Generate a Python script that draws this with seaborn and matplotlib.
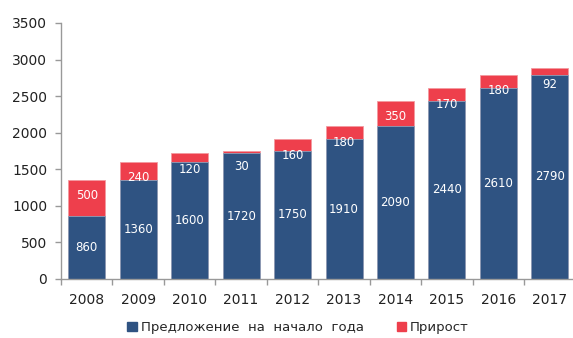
import numpy as np
import matplotlib as mpl
mpl.use("Agg")
import matplotlib.pyplot as plt
import seaborn as sns
from matplotlib.patches import Patch

years = ["2008", "2009", "2010", "2011", "2012", "2013", "2014", "2015", "2016", "2017"]
base = [860, 1360, 1600, 1720, 1750, 1910, 2090, 2440, 2610, 2790]   # предложение на начало года
incr = [500, 240, 120, 30, 160, 180, 350, 170, 180, 92]              # прирост

blue = "#2f5382"
red = "#ee3f4c"

sns.set_style("white", {"xtick.bottom": True, "ytick.left": True})
plt.rcParams['font.family'] = ['DejaVu Sans']
plt.rcParams['xtick.minor.visible'] = False

total = [b + i for b, i in zip(base, incr)]

fig = plt.figure(figsize=(5.73, 3.38), dpi=100)
ax = fig.add_axes([0.1065, 0.1746, 0.8935, 0.7574])

# red = whole column, blue drawn over it
sns.barplot(x=years, y=total, color=red, width=0.72, saturation=1,
            edgecolor="#f39aa0", linewidth=0.6, ax=ax)
sns.barplot(x=years, y=base, color=blue, width=0.72, saturation=1,
            edgecolor="#8da0ba", linewidth=0.6, ax=ax)

for i, (b, inc, t) in enumerate(zip(base, incr, total)):
    ax.text(i, b / 2, str(b), ha="center", va="center", color="white", fontsize=8.5)
    ax.annotate(str(inc), (i, t), xytext=(0, -11.5), textcoords="offset points",
                ha="center", va="center", color="white", fontsize=8.5)

ax.set_ylim(0, 3500)
ax.set_yticks(np.arange(0, 3501, 500))
ax.set_xlim(-0.5, 9.45)
ax.set_xticks(np.arange(-0.5, 9.5, 1), minor=True)
ax.tick_params(axis="x", which="major", length=0, labelsize=10, pad=10, colors="#222222")
ax.tick_params(axis="x", which="minor", bottom=True, length=4, width=1,
               color="#999999", direction="out")
ax.tick_params(axis="y", which="major", left=True, length=4, width=1, labelsize=10,
               labelcolor="#222222", color="#999999", direction="out", pad=6)
ax.set_xlabel("")
ax.set_ylabel("")

for s in ["top", "right"]:
    ax.spines[s].set_visible(False)
for s in ["left", "bottom"]:
    ax.spines[s].set_color("#999999")
    ax.spines[s].set_linewidth(1)

handles = [Patch(color=blue, label="Предложение  на  начало  года"),
           Patch(color=red, label="Прирост")]
fig.legend(handles=handles, loc="center", bbox_to_anchor=(0.52, 0.03), ncol=2,
           frameon=False, fontsize=9.5, handlelength=0.7, handleheight=0.7,
           handletextpad=0.3, columnspacing=2.5)

fig.savefig("out.png", dpi=100)
